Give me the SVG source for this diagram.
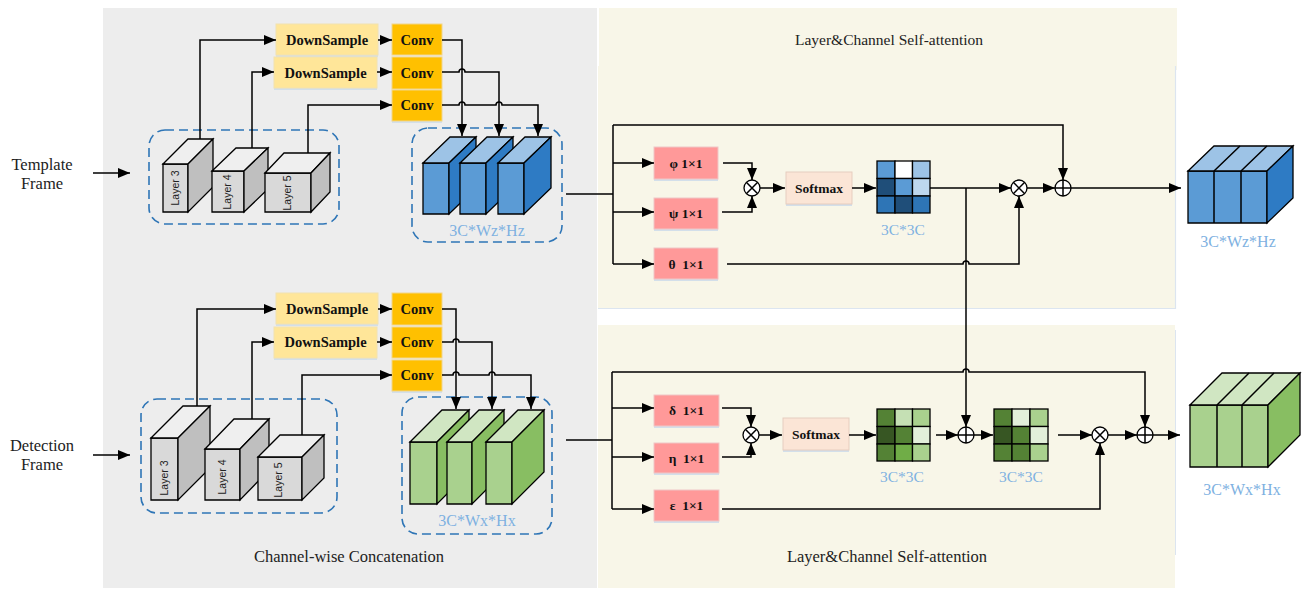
<svg xmlns="http://www.w3.org/2000/svg" width="1304" height="589" viewBox="0 0 1304 589">
<defs>
<marker id="ah" markerUnits="userSpaceOnUse" markerWidth="12" markerHeight="10" refX="12" refY="5" orient="auto"><path d="M0,0 L12,5 L0,10 z" fill="#000"/></marker>
<style>
.ln{fill:none;stroke:#000;stroke-width:1.5}
.ar{fill:none;stroke:#000;stroke-width:1.5;marker-end:url(#ah)}
.dash{fill:none;stroke:#2E75B6;stroke-width:1.6;stroke-dasharray:9,5}
.ds{fill:#FFE699;stroke:#F2E2B0;stroke-width:1}
.cv{fill:#FFC000;stroke:#F2D68A;stroke-width:1}
.pk{fill:#FF9999;stroke:#EFC6C6;stroke-width:1}
.sm{fill:#FBE5D6;stroke:#E6CDBF;stroke-width:1}
.sh{fill:#D3DFEA}
.bt{font-family:"Liberation Serif",serif;font-weight:bold;font-size:14.5px;fill:#111;text-anchor:middle}
.st{font-family:"Liberation Serif",serif;font-size:16.5px;fill:#222;text-anchor:middle}
.lb{font-family:"Liberation Serif",serif;font-size:16px;fill:#7EB1E1;text-anchor:middle}
.ly{font-family:"Liberation Sans",sans-serif;font-size:10.5px;fill:#222;text-anchor:middle}
.fg{fill:#D9D9D9;stroke:#000;stroke-width:1.3}
.tg{fill:#EFEFEF;stroke:#000;stroke-width:1.3}
.sg{fill:#BFBFBF;stroke:#000;stroke-width:1.3}
.fb{fill:#5B9BD5;stroke:#000;stroke-width:1.3}
.tb{fill:#9DC3E6;stroke:#000;stroke-width:1.3}
.sb{fill:#2E7BC4;stroke:#000;stroke-width:1.3}
.fn{fill:#A9D18E;stroke:#000;stroke-width:1.3}
.tn{fill:#D0E6C2;stroke:#000;stroke-width:1.3}
.sn{fill:#88BE62;stroke:#000;stroke-width:1.3}
.op{fill:#fff;stroke:#000;stroke-width:1.3}
.cell{stroke:#000;stroke-width:1.3}
</style>
</defs>

<!-- panels -->
<rect x="103" y="8" width="494" height="580" fill="#EDEDED"/>
<rect x="599" y="8" width="578" height="62" fill="#F8F6E8"/>
<rect x="598" y="66" width="577" height="242" fill="#F8F6E8"/>
<path d="M1175.5,66 V308.5 H598" fill="none" stroke="#DCE5F0" stroke-width="1.2"/>
<rect x="598" y="325" width="577" height="263" fill="#F8F6E8"/>
<line x1="1175.5" y1="330" x2="1175.5" y2="555" stroke="#DCE5F0" stroke-width="1"/>

<text class="st" x="889" y="45" style="font-size:15.5px">Layer&amp;Channel Self-attention</text>
<text class="st" x="887" y="562">Layer&amp;Channel Self-attention</text>
<text class="st" x="349" y="562">Channel-wise Concatenation</text>

<g id="template-label"><text class="st" x="42" y="170">Template</text><text class="st" x="42" y="189">Frame</text></g>
<g id="detection-label"><text class="st" x="42" y="451">Detection</text><text class="st" x="42" y="470">Frame</text></g>

<!-- top left: layers -->
<g id="top-layers">
<rect class="dash" x="149" y="130" width="190" height="94" rx="16"/>
<g id="t-layer3">
<polygon class="fg" points="163,164 188,164 188,212 163,212"/>
<polygon class="tg" points="163,164 188,139 213,139 188,164"/>
<polygon class="sg" points="188,164 213,139 213,187 188,212"/>
<text class="ly" transform="translate(179,188) rotate(-90)">Layer 3</text>
</g>
<g id="t-layer4">
<polygon class="fg" points="212,171 244,171 244,212 212,212"/>
<polygon class="tg" points="212,171 236,148 268,148 244,171"/>
<polygon class="sg" points="244,171 268,148 268,189 244,212"/>
<text class="ly" transform="translate(231,192) rotate(-90)">Layer 4</text>
</g>
<g id="t-layer5">
<polygon class="fg" points="265,173 311,173 311,212 265,212"/>
<polygon class="tg" points="265,173 284,153 330,153 311,173"/>
<polygon class="sg" points="311,173 330,153 330,192 311,212"/>
<text class="ly" transform="translate(291,193) rotate(-90)">Layer 5</text>
</g>
</g>

<g id="top-ds1"><rect class="sh" x="276" y="26" width="102" height="31"/><rect class="ds" x="276" y="24" width="102" height="31"/><text class="bt" x="327" y="45">DownSample</text></g>
<g id="top-ds2"><rect class="sh" x="274" y="59" width="103" height="31"/><rect class="ds" x="274" y="57" width="103" height="31"/><text class="bt" x="325.5" y="78">DownSample</text></g>
<g id="top-conv1"><rect class="cv" x="392" y="24" width="50" height="31"/><text class="bt" x="417" y="45">Conv</text></g>
<g id="top-conv2"><rect class="cv" x="392" y="57" width="50" height="32"/><text class="bt" x="417" y="78">Conv</text></g>
<g id="top-conv3"><rect class="sh" x="392" y="92" width="50" height="31"/><rect class="cv" x="392" y="90" width="50" height="31"/><text class="bt" x="417" y="110">Conv</text></g>

<g id="top-concat">
<rect class="dash" x="412" y="128" width="150" height="114" rx="16"/>
<polygon class="fb" points="423,163 449,163 449,214 423,214"/>
<polygon class="tb" points="423,163 450,137 476,137 449,163"/>
<polygon class="sb" points="449,163 476,137 476,188 449,214"/>
<polygon class="fb" points="460,163 486,163 486,214 460,214"/>
<polygon class="tb" points="460,163 487,137 513,137 486,163"/>
<polygon class="sb" points="486,163 513,137 513,188 486,214"/>
<polygon class="fb" points="498,163 524,163 524,214 498,214"/>
<polygon class="tb" points="498,163 525,137 551,137 524,163"/>
<polygon class="sb" points="524,163 551,137 551,188 524,214"/>
<text class="lb" x="487" y="236">3C*Wz*Hz</text>
</g>

<!-- bottom left -->
<g id="bottom-layers">
<rect class="dash" x="141" y="399" width="196" height="114" rx="16"/>
<g id="b-layer3">
<polygon class="fg" points="151,438 178,438 178,500 151,500"/>
<polygon class="tg" points="151,438 183,406 210,406 178,438"/>
<polygon class="sg" points="178,438 210,406 210,468 178,500"/>
<text class="ly" transform="translate(168,478) rotate(-90)">Layer 3</text>
</g>
<g id="b-layer4">
<polygon class="fg" points="205,449 240,449 240,500 205,500"/>
<polygon class="tg" points="205,449 234,419 269,419 240,449"/>
<polygon class="sg" points="240,449 269,419 269,470 240,500"/>
<text class="ly" transform="translate(226,477) rotate(-90)">Layer 4</text>
</g>
<g id="b-layer5">
<polygon class="fg" points="258,457 302,457 302,500 258,500"/>
<polygon class="tg" points="258,457 280,435 324,435 302,457"/>
<polygon class="sg" points="302,457 324,435 324,478 302,500"/>
<text class="ly" transform="translate(282,480) rotate(-90)">Layer 5</text>
</g>
</g>

<g id="bot-ds1"><rect class="sh" x="276" y="295" width="102" height="31"/><rect class="ds" x="276" y="293" width="102" height="31"/><text class="bt" x="327" y="314">DownSample</text></g>
<g id="bot-ds2"><rect class="sh" x="274" y="329" width="103" height="31"/><rect class="ds" x="274" y="327" width="103" height="31"/><text class="bt" x="325.5" y="347">DownSample</text></g>
<g id="bot-conv1"><rect class="cv" x="392" y="293" width="50" height="32"/><text class="bt" x="417" y="314">Conv</text></g>
<g id="bot-conv2"><rect class="cv" x="392" y="327" width="50" height="31"/><text class="bt" x="417" y="347">Conv</text></g>
<g id="bot-conv3"><rect class="sh" x="392" y="362" width="50" height="31"/><rect class="cv" x="392" y="360" width="50" height="31"/><text class="bt" x="417" y="380">Conv</text></g>

<g id="bot-concat">
<rect class="dash" x="402" y="397" width="150" height="137" rx="16"/>
<polygon class="fn" points="410,442 437,442 437,504 410,504"/>
<polygon class="tn" points="410,442 442,410 469,410 437,442"/>
<polygon class="sn" points="437,442 469,410 469,472 437,504"/>
<polygon class="fn" points="447,442 472,442 472,504 447,504"/>
<polygon class="tn" points="447,442 479,410 504,410 472,442"/>
<polygon class="sn" points="472,442 504,410 504,472 472,504"/>
<polygon class="fn" points="486,442 512,442 512,504 486,504"/>
<polygon class="tn" points="486,442 518,410 544,410 512,442"/>
<polygon class="sn" points="512,442 544,410 544,472 512,504"/>
<text class="lb" x="477" y="526">3C*Wx*Hx</text>
</g>

<!-- top right -->
<g id="phi"><rect class="sh" x="654" y="149" width="64" height="32"/><rect class="pk" x="654" y="147" width="64" height="32"/><text class="bt" x="686" y="168" style="font-size:13.5px">φ 1×1</text></g>
<g id="psi"><rect class="sh" x="654" y="200" width="64" height="31"/><rect class="pk" x="654" y="198" width="64" height="31"/><text class="bt" x="686" y="218" style="font-size:13.5px">ψ 1×1</text></g>
<g id="theta"><rect class="sh" x="654" y="250" width="64" height="31"/><rect class="pk" x="654" y="248" width="64" height="31"/><text class="bt" x="686" y="269" style="font-size:13.5px" xml:space="preserve">θ  1×1</text></g>
<g id="softmax-top"><rect class="sh" x="786" y="174" width="66" height="32"/><rect class="sm" x="786" y="172" width="66" height="32"/><text class="bt" x="819" y="193" style="font-size:13.5px">Softmax</text></g>
<g id="mat-top">
<rect class="cell" x="877" y="161" width="18" height="17.5" fill="#5B9BD5"/>
<rect class="cell" x="895" y="161" width="17.5" height="17.5" fill="#FFFFFF"/>
<rect class="cell" x="912.5" y="161" width="17.5" height="17.5" fill="#9DC3E6"/>
<rect class="cell" x="877" y="178.5" width="18" height="17.5" fill="#1F4E79"/>
<rect class="cell" x="895" y="178.5" width="17.5" height="17.5" fill="#5B9BD5"/>
<rect class="cell" x="912.5" y="178.5" width="17.5" height="17.5" fill="#BDD7EE"/>
<rect class="cell" x="877" y="196" width="18" height="17" fill="#2E75B6"/>
<rect class="cell" x="895" y="196" width="17.5" height="17" fill="#1F4E79"/>
<rect class="cell" x="912.5" y="196" width="17.5" height="17" fill="#2E75B6"/>
<text class="lb" x="903" y="235" style="font-size:15.5px">3C*3C</text>
</g>
<g id="mul-top1"><circle class="op" cx="752" cy="188" r="8"/><path class="ln" d="M746.3,182.3 L757.7,193.7 M757.7,182.3 L746.3,193.7" stroke-width="1.2"/></g>
<g id="mul-top2"><circle class="op" cx="1019" cy="188" r="8"/><path class="ln" d="M1013.3,182.3 L1024.7,193.7 M1024.7,182.3 L1013.3,193.7" stroke-width="1.2"/></g>
<g id="add-top"><circle class="op" cx="1063" cy="188" r="8"/><path class="ln" d="M1055,188 H1071 M1063,180 V196" stroke-width="1.2"/></g>
<g id="out-top">
<polygon class="fb" points="1188,171 1267,171 1267,223 1188,223"/>
<polygon class="tb" points="1188,171 1214,146 1293,146 1267,171"/>
<polygon class="sb" points="1267,171 1293,146 1293,198 1267,223"/>
<path class="ln" d="M1214,171 V223 M1241,171 V223 M1214,171 L1240,146 M1241,171 L1267,146" stroke-width="1.3"/>
<text class="lb" x="1238" y="247">3C*Wz*Hz</text>
</g>

<!-- bottom right -->
<g id="delta"><rect class="sh" x="654" y="397" width="65" height="31"/><rect class="pk" x="654" y="395" width="65" height="31"/><text class="bt" x="686.5" y="415" style="font-size:13.5px" xml:space="preserve">δ  1×1</text></g>
<g id="eta"><rect class="sh" x="654" y="445" width="65" height="30"/><rect class="pk" x="654" y="443" width="65" height="30"/><text class="bt" x="686.5" y="463" style="font-size:13.5px" xml:space="preserve">η  1×1</text></g>
<g id="eps"><rect class="sh" x="654" y="492" width="65" height="31"/><rect class="pk" x="654" y="490" width="65" height="31"/><text class="bt" x="686.5" y="510" style="font-size:13.5px" xml:space="preserve">ε  1×1</text></g>
<g id="softmax-bot"><rect class="sh" x="783" y="420" width="66" height="32"/><rect class="sm" x="783" y="418" width="66" height="32"/><text class="bt" x="816" y="439" style="font-size:13.5px">Softmax</text></g>
<g id="mat-bot1">
<rect class="cell" x="877" y="409" width="18" height="17.5" fill="#548235"/>
<rect class="cell" x="895" y="409" width="17.5" height="17.5" fill="#C5E0B4"/>
<rect class="cell" x="912.5" y="409" width="17.5" height="17.5" fill="#A9D18E"/>
<rect class="cell" x="877" y="426.5" width="18" height="17.5" fill="#375623"/>
<rect class="cell" x="895" y="426.5" width="17.5" height="17.5" fill="#548235"/>
<rect class="cell" x="912.5" y="426.5" width="17.5" height="17.5" fill="#E2EFDA"/>
<rect class="cell" x="877" y="444" width="18" height="17" fill="#548235"/>
<rect class="cell" x="895" y="444" width="17.5" height="17" fill="#70AD47"/>
<rect class="cell" x="912.5" y="444" width="17.5" height="17" fill="#A9D18E"/>
<text class="lb" x="902" y="482" style="font-size:15.5px">3C*3C</text>
</g>
<g id="mat-bot2">
<rect class="cell" x="994" y="409" width="18" height="17.5" fill="#548235"/>
<rect class="cell" x="1012" y="409" width="18" height="17.5" fill="#E2EFDA"/>
<rect class="cell" x="1030" y="409" width="18" height="17.5" fill="#A9D18E"/>
<rect class="cell" x="994" y="426.5" width="18" height="17.5" fill="#375623"/>
<rect class="cell" x="1012" y="426.5" width="18" height="17.5" fill="#548235"/>
<rect class="cell" x="1030" y="426.5" width="18" height="17.5" fill="#E2EFDA"/>
<rect class="cell" x="994" y="444" width="18" height="17" fill="#548235"/>
<rect class="cell" x="1012" y="444" width="18" height="17" fill="#548235"/>
<rect class="cell" x="1030" y="444" width="18" height="17" fill="#A9D18E"/>
<text class="lb" x="1021" y="482" style="font-size:15.5px">3C*3C</text>
</g>
<g id="mul-bot1"><circle class="op" cx="751" cy="435" r="8"/><path class="ln" d="M745.3,429.3 L756.7,440.7 M756.7,429.3 L745.3,440.7" stroke-width="1.2"/></g>
<g id="add-bot1"><circle class="op" cx="966" cy="435" r="8"/><path class="ln" d="M958,435 H974 M966,427 V443" stroke-width="1.2"/></g>
<g id="mul-bot2"><circle class="op" cx="1100" cy="435" r="8"/><path class="ln" d="M1094.3,429.3 L1105.7,440.7 M1105.7,429.3 L1094.3,440.7" stroke-width="1.2"/></g>
<g id="add-bot2"><circle class="op" cx="1145" cy="435" r="8"/><path class="ln" d="M1137,435 H1153 M1145,427 V443" stroke-width="1.2"/></g>
<g id="out-bot">
<polygon class="fn" points="1190,405 1268,405 1268,467 1190,467"/>
<polygon class="tn" points="1190,405 1222,373 1300,373 1268,405"/>
<polygon class="sn" points="1268,405 1300,373 1300,435 1268,467"/>
<path class="ln" d="M1217,405 V467 M1242,405 V467 M1217,405 L1249,373 M1242,405 L1274,373" stroke-width="1.3"/>
<text class="lb" x="1242" y="495">3C*Wx*Hx</text>
</g>

<!-- connectors -->
<g id="connectors">
<path class="ar" d="M93,173 H130"/>
<path class="ar" d="M93,455 H130"/>
<path class="ar" d="M200,139 V40 H276"/>
<path class="ar" d="M252,148 V72 H274"/>
<path class="ar" d="M308,153 V105 H392"/>
<path class="ar" d="M378,40 H392"/>
<path class="ar" d="M377,72 H392"/>
<path class="ar" d="M442,40 H462 V136"/>
<path class="ar" d="M442,72 H459 A3,3 0 0 1 465,72 H499 V136"/>
<path class="ar" d="M442,105 H459 A3,3 0 0 1 465,105 H496 A3,3 0 0 1 502,105 H538 V136"/>

<path class="ar" d="M197,406 V309 H276"/>
<path class="ar" d="M252,419 V342 H274"/>
<path class="ar" d="M302,435 V375 H392"/>
<path class="ar" d="M378,309 H392"/>
<path class="ar" d="M377,342 H392"/>
<path class="ar" d="M442,309 H456 V409"/>
<path class="ar" d="M442,342 H453 A3,3 0 0 1 459,342 H492 V409"/>
<path class="ar" d="M442,375 H453 A3,3 0 0 1 459,375 H489 A3,3 0 0 1 495,375 H531 V409"/>

<path class="ln" d="M566,194 H613 M613,125 V264"/>
<path class="ar" d="M613,125 H1063 V180"/>
<path class="ar" d="M613,163 H654"/>
<path class="ar" d="M613,212 H654"/>
<path class="ar" d="M613,264 H654"/>
<path class="ar" d="M723,163 H752 V180"/>
<path class="ar" d="M722,212 H752 V196"/>
<path class="ar" d="M760,188 H785"/>
<path class="ar" d="M852,188 H876"/>
<path class="ar" d="M930,188 H1011"/>
<path class="ar" d="M727,264 H963 A3,3 0 0 1 969,264 H1019 V196"/>
<path class="ar" d="M1027,188 H1055"/>
<path class="ar" d="M1071,188 H1181"/>
<path class="ar" d="M966,188 V427"/>

<path class="ln" d="M566,440 H612 M612,372 V509"/>
<path class="ar" d="M612,372 H963 A3,3 0 0 1 969,372 H1145 V427"/>
<path class="ar" d="M612,408 H654"/>
<path class="ar" d="M612,457 H654"/>
<path class="ar" d="M612,509 H654"/>
<path class="ar" d="M722,408 H751 V427"/>
<path class="ar" d="M722,457 H751 V443"/>
<path class="ar" d="M759,435 H782"/>
<path class="ar" d="M849,435 H876"/>
<path class="ar" d="M936,435 H958"/>
<path class="ar" d="M974,435 H993"/>
<path class="ar" d="M1058,435 H1092"/>
<path class="ar" d="M1108,435 H1137"/>
<path class="ar" d="M1153,435 H1180"/>
<path class="ar" d="M722,509 H1100 V443"/>
</g>
</svg>
